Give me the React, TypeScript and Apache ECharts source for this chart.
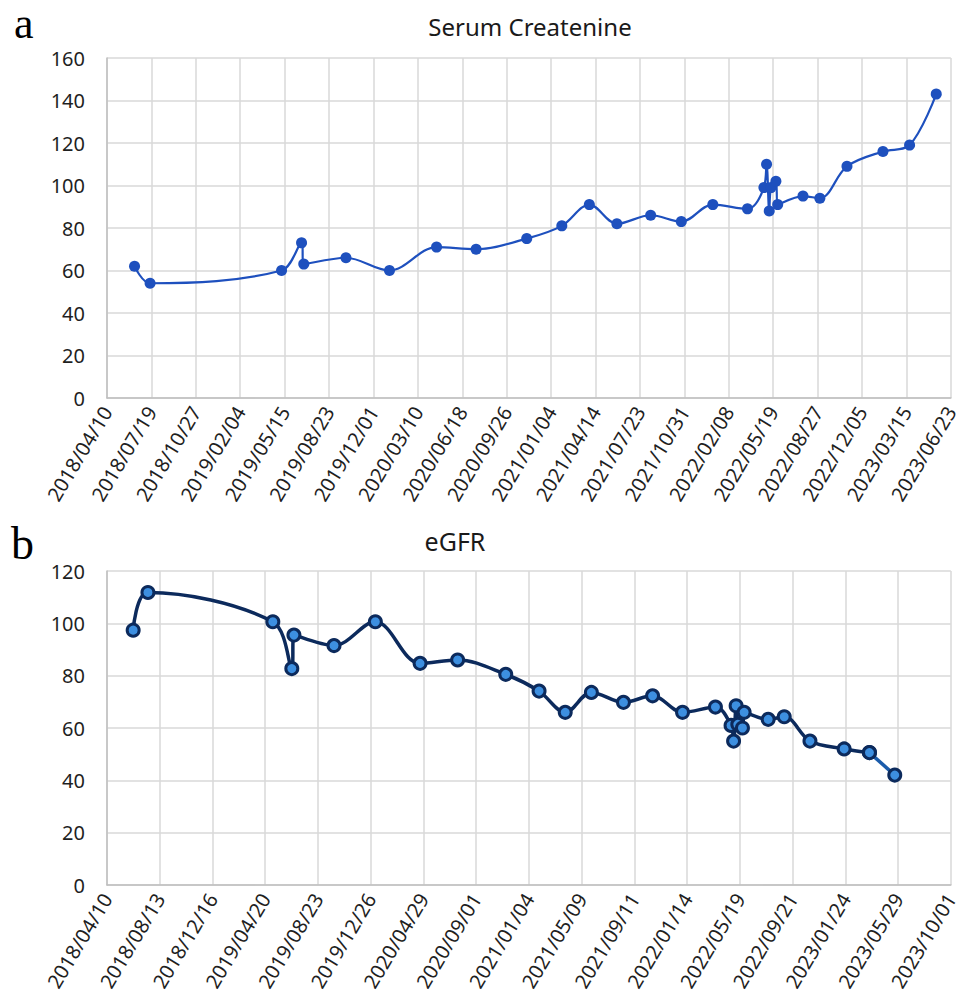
import React, { useEffect, useRef } from "react";
import * as echarts from "echarts";

// ---- data ----
const baseDate = "2018/04/10";
const visitDates = [
  "2018/06/11", "2018/07/16", "2019/05/08", "2019/06/22", "2019/06/27",
  "2019/09/30", "2020/01/06", "2020/04/21", "2020/07/19", "2020/11/10",
  "2021/01/28", "2021/03/31", "2021/06/01", "2021/08/16", "2021/10/24",
  "2022/01/03", "2022/03/22", "2022/04/28", "2022/05/04", "2022/05/10",
  "2022/05/14", "2022/05/25", "2022/05/29", "2022/07/25", "2022/09/01",
  "2022/11/01", "2023/01/21", "2023/03/22", "2023/05/21",
];
const creatinine = [
  62, 54, 60, 73, 63, 66, 60, 71, 70, 75,
  81, 91, 82, 86, 83, 91, 89, 99, 110, 88,
  99, 102, 91, 95, 94, 109, 116, 119, 143,
];
const egfr = [
  97.4, 111.8, 100.6, 82.7, 95.5, 91.5, 100.6, 84.7, 86, 80.5,
  74.1, 66, 73.6, 69.8, 72.3, 66, 68, 61, 55, 68.5,
  61.4, 60, 66, 63.3, 64.3, 55, 52, 50.6, 42,
];
// axis ticks (days after baseDate)
const creatTickStepDays = 100;
const creatTickMaxDays = 1900;
const egfrTickStepDays = 125;
const egfrTickMaxDays = 2000;
const creatYTicks = { min: 0, max: 160, step: 20 };
const egfrYTicks = { min: 0, max: 120, step: 20 };
const titles = { a: "Serum Createnine", b: "eGFR" };
const panelLetters = ["a", "b"];

// ---- helpers ----
const DAY = 86400000;
const toUTC = (s: string) => {
  const [y, m, d] = s.split("/").map(Number);
  return Date.UTC(y, m - 1, d);
};
const baseUTC = toUTC(baseDate);
const dayOffset = (s: string) => Math.round((toUTC(s) - baseUTC) / DAY);
const pad = (n: number) => (n < 10 ? "0" + n : "" + n);
const fmtDay = (v: number) => {
  const d = new Date(baseUTC + v * DAY);
  return `${d.getUTCFullYear()}/${pad(d.getUTCMonth() + 1)}/${pad(d.getUTCDate())}`;
};

const FONT = "'Noto Sans', 'Open Sans', sans-serif";

export default function App() {
  const ref = useRef<HTMLDivElement>(null);
  useEffect(() => {
    if (!ref.current) return;
    const chart = echarts.init(ref.current, undefined, { renderer: "svg" });
    const days = visitDates.map(dayOffset);
    const creatData = days.map((d, i) => [d, creatinine[i]]);
    const egfrData = days.map((d, i) => [d, egfr[i]]);
    const n = egfrData.length;

    const xAxisBase = (gridIndex: number, step: number, max: number) => ({
      type: "value",
      gridIndex,
      min: 0,
      max,
      interval: step,
      axisLine: { show: true, lineStyle: { color: "#bfbfbf", width: 1.5 } },
      axisTick: { show: false },
      splitLine: { show: true, lineStyle: { color: "#d9d9d9", width: 1.5 } },
      axisLabel: {
        formatter: (v: number) => fmtDay(v),
        rotate: 59,
        fontSize: 20,
        fontFamily: FONT,
        color: "#1f1f1f",
        margin: 10,
        showMaxLabel: true,
        showMinLabel: true,
      },
    });
    const yAxisBase = (gridIndex: number, t: { min: number; max: number; step: number }) => ({
      type: "value",
      gridIndex,
      min: t.min,
      max: t.max,
      interval: t.step,
      axisLine: { show: true, lineStyle: { color: "#bfbfbf", width: 1.5 } },
      axisTick: { show: false },
      splitLine: { show: true, lineStyle: { color: "#d9d9d9", width: 1.5 } },
      axisLabel: { fontSize: 20, fontFamily: FONT, color: "#1f1f1f", margin: 22 },
    });

    const egfrMarker = {
      color: "#3d8fe0",
      borderColor: "#0c2a5c",
      borderWidth: 3,
    };

    chart.setOption({
      animation: false,
      backgroundColor: "#ffffff",
      grid: [
        { left: 107, top: 58, width: 847, height: 340 },
        { left: 107, top: 571, width: 847, height: 314 },
      ],
      xAxis: [
        xAxisBase(0, creatTickStepDays, creatTickMaxDays),
        xAxisBase(1, egfrTickStepDays, egfrTickMaxDays),
      ],
      yAxis: [yAxisBase(0, creatYTicks), yAxisBase(1, egfrYTicks)],
      graphic: [
        {
          type: "text",
          x: 530,
          y: 26,
          style: {
            text: titles.a,
            font: `24px ${FONT}`,
            fill: "#1a1a1a",
            textAlign: "center",
            textVerticalAlign: "middle",
          },
        },
        {
          type: "text",
          x: 455,
          y: 541,
          style: {
            text: titles.b,
            font: `25px ${FONT}`,
            fill: "#1a1a1a",
            textAlign: "center",
            textVerticalAlign: "middle",
          },
        },
        {
          type: "text",
          x: 14,
          y: 45,
          style: {
            text: panelLetters[0],
            font: `44px 'Liberation Serif', serif`,
            fill: "#000",
            textVerticalAlign: "bottom",
          },
        },
        {
          type: "text",
          x: 11,
          y: 566,
          style: {
            text: panelLetters[1],
            font: `46px 'Liberation Serif', serif`,
            fill: "#000",
            textVerticalAlign: "bottom",
          },
        },
      ],
      series: [
        {
          type: "line",
          xAxisIndex: 0,
          yAxisIndex: 0,
          data: creatData,
          smooth: 0.35,
          symbol: "circle",
          symbolSize: 11,
          lineStyle: { color: "#1e50be", width: 2.2 },
          itemStyle: { color: "#1e50be" },
        },
        {
          type: "line",
          xAxisIndex: 1,
          yAxisIndex: 1,
          data: egfrData.slice(n - 2),
          smooth: 0.35,
          symbol: "circle",
          symbolSize: 12,
          lineStyle: { color: "#1b5cab", width: 3.5 },
          itemStyle: egfrMarker,
        },
        {
          type: "line",
          xAxisIndex: 1,
          yAxisIndex: 1,
          data: egfrData.slice(0, n - 1),
          smooth: 0.35,
          symbol: "circle",
          symbolSize: 12,
          lineStyle: { color: "#0c2a5c", width: 3.5 },
          itemStyle: egfrMarker,
        },
      ],
    });
    return () => chart.dispose();
  }, []);
  return (
    <div
      ref={ref}
      style={{ position: "absolute", left: 0, top: 0, width: 961, height: 1000 }}
    />
  );
}
